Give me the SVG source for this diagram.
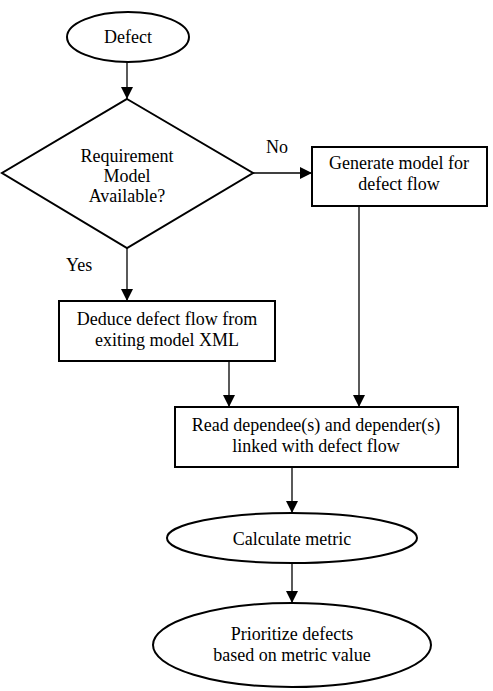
<svg xmlns="http://www.w3.org/2000/svg" width="493" height="691" viewBox="0 0 493 691">
<style>
.s{fill:#fff;stroke:#000;stroke-width:2}
.t{font-family:'Liberation Serif','Times New Roman',serif;font-size:18px;fill:#000;text-anchor:middle}
.l{font-family:'Liberation Serif','Times New Roman',serif;font-size:18px;fill:#000}
.c{fill:none;stroke:#000;stroke-width:1.3}
</style>
<defs>
<marker id="ah" markerUnits="userSpaceOnUse" markerWidth="12" markerHeight="12" refX="12" refY="6" orient="auto">
<path d="M0,0 L12,6 L0,12 Z" fill="#000"/>
</marker>
</defs>
<rect width="493" height="691" fill="#fff"/>
<g id="connectors">
<line class="c" x1="127" y1="62" x2="127" y2="99" marker-end="url(#ah)"/>
<line class="c" x1="253" y1="173" x2="312" y2="173" marker-end="url(#ah)"/>
<line class="c" x1="127" y1="248" x2="127" y2="301" marker-end="url(#ah)"/>
<line class="c" x1="229" y1="361" x2="229" y2="407" marker-end="url(#ah)"/>
<line class="c" x1="359" y1="206" x2="359" y2="407" marker-end="url(#ah)"/>
<line class="c" x1="292" y1="467" x2="292" y2="513" marker-end="url(#ah)"/>
<line class="c" x1="292" y1="563" x2="292" y2="603" marker-end="url(#ah)"/>
<text class="l" x="266" y="153">No</text>
<text class="l" x="66" y="271">Yes</text>
</g>
<g id="defect">
<ellipse class="s" cx="128" cy="37" rx="61" ry="25"/>
<text class="t" x="128" y="43">Defect</text>
</g>
<g id="decision">
<polygon class="s" points="127,99 253,173 127,248 2,173"/>
<text class="t" x="127" y="162">Requirement</text>
<text class="t" x="127" y="182">Model</text>
<text class="t" x="127" y="202">Available?</text>
</g>
<g id="generate">
<rect class="s" x="312" y="147" width="175" height="59"/>
<text class="t" x="399" y="169">Generate model for</text>
<text class="t" x="399" y="190">defect flow</text>
</g>
<g id="deduce">
<rect class="s" x="59" y="301" width="216" height="60"/>
<text class="t" x="167" y="325">Deduce defect flow from</text>
<text class="t" x="167" y="346">exiting model XML</text>
</g>
<g id="read">
<rect class="s" x="175" y="407" width="283" height="60"/>
<text class="t" x="316" y="431">Read dependee(s) and depender(s)</text>
<text class="t" x="316" y="452">linked with defect flow</text>
</g>
<g id="calculate">
<ellipse class="s" cx="292" cy="538" rx="125" ry="25"/>
<text class="t" x="292" y="545">Calculate metric</text>
</g>
<g id="prioritize">
<ellipse class="s" cx="292" cy="645" rx="139" ry="42"/>
<text class="t" x="292" y="640">Prioritize defects</text>
<text class="t" x="292" y="661">based on metric value</text>
</g>
</svg>
